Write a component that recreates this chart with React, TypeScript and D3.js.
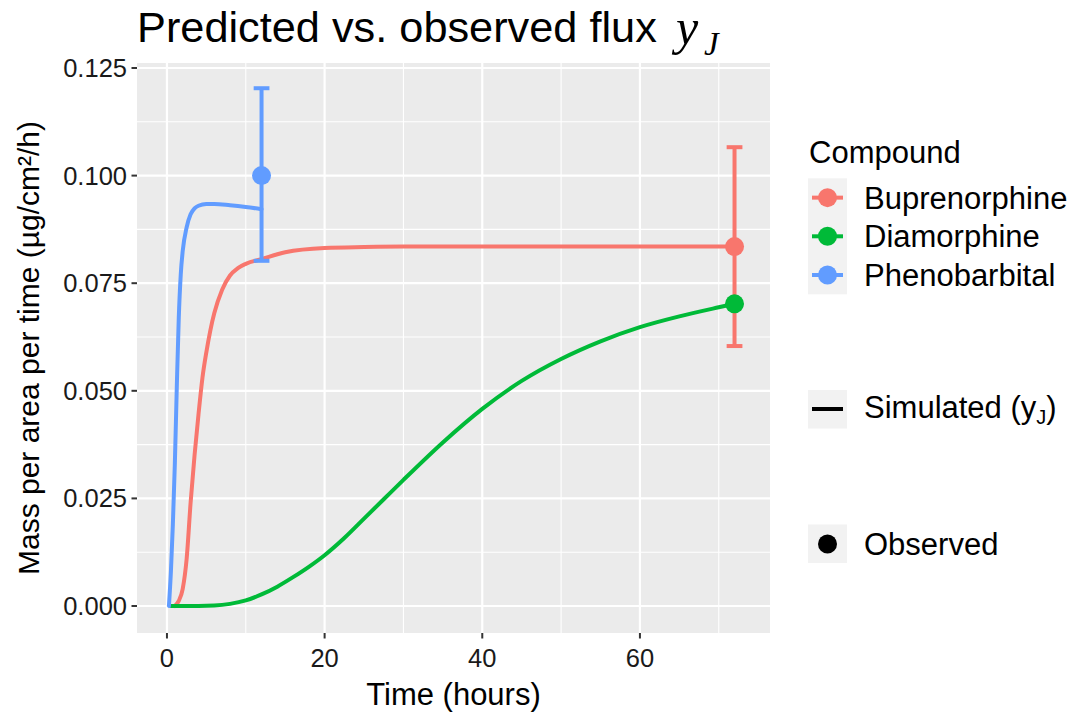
import React from "react";
import * as d3 from "d3";

// ---------- data ----------
const compounds = ["Buprenorphine", "Diamorphine", "Phenobarbital"];
const colors = ["#F8766D", "#00BA38", "#619CFF"];

const bupTime = [1, 1.5, 2, 2.5, 3, 3.5, 4, 4.5, 5, 5.5, 6, 7, 8, 9, 10, 12, 15, 20, 25, 30, 72];
const bupFlux = [0, 0.0012, 0.004, 0.011, 0.024, 0.035, 0.0445, 0.053, 0.059, 0.064, 0.068, 0.0735, 0.0768, 0.0785, 0.0795, 0.0806, 0.0822, 0.0832, 0.0834, 0.0835, 0.0835];

const diaTime = [0.5, 2, 4, 6, 8, 10, 12, 14, 16, 18, 20, 22.5, 25, 27.5, 30, 35, 40, 45, 50, 55, 60, 65, 70, 72];
const diaFlux = [0, 0, 0, 0.0001, 0.0005, 0.0013, 0.0027, 0.0045, 0.0067, 0.0091, 0.0118, 0.0158, 0.0203, 0.0248, 0.0293, 0.038, 0.0458, 0.0523, 0.0574, 0.0615, 0.0648, 0.0673, 0.0694, 0.0702];

const pheTime = [0.25, 0.5, 0.75, 1, 1.25, 1.5, 1.75, 2, 2.5, 3, 3.5, 4, 5, 6, 8, 10, 12];
const pheFlux = [0, 0.008, 0.019, 0.033, 0.051, 0.067, 0.077, 0.0825, 0.088, 0.091, 0.0924, 0.093, 0.0934, 0.0934, 0.0931, 0.0927, 0.0922];

const obsCompound = ["Buprenorphine", "Diamorphine", "Phenobarbital"];
const obsTime = [72, 72, 12];
const obsFlux = [0.0835, 0.0702, 0.1];
const obsLow = [0.0604, null, 0.0802];
const obsHigh = [0.1066, null, 0.1203];

const xTicks = [0, 20, 40, 60];
const xMinor = [10, 30, 50, 70];
const yTicks = [0, 0.025, 0.05, 0.075, 0.1, 0.125];
const yMinor = [0.0125, 0.0375, 0.0625, 0.0875, 0.1125];

const titleText = "Predicted vs. observed flux";
const xTitle = "Time (hours)";
const yTitle = "Mass per area per time (µg/cm²/h)";
const legendTitle = "Compound";

// ---------- layout ----------
const W = 1073, H = 714;
const PL = 137, PR = 770, PT = 63, PB = 633;
const SANS = "'Liberation Sans', Arial, sans-serif";
const SERIF = "'Liberation Serif', 'DejaVu Serif', serif";

export default function App() {
  const x = d3.scaleLinear().domain([-3.8, 76.5]).range([PL, PR]);
  const y = d3.scaleLinear().domain([-0.00627, 0.12616]).range([PB, PT]);
  const line = d3
    .line<[number, number]>()
    .x((d) => x(d[0]))
    .y((d) => y(d[1]))
    .curve(d3.curveMonotoneX);

  const sims = [
    { name: "Buprenorphine", t: bupTime, v: bupFlux },
    { name: "Diamorphine", t: diaTime, v: diaFlux },
    { name: "Phenobarbital", t: pheTime, v: pheFlux },
  ];
  const col = (n: string) => colors[compounds.indexOf(n)];
  const capHalf = 1.0;
  const LW = 4;

  const keyX = 808, keyW = 39, keyH = 38.67, keyTop = 178.3;

  return (
    <svg width={W} height={H} style={{ position: "absolute", left: 0, top: 0 }} fontFamily={SANS}>
      <rect x={0} y={0} width={W} height={H} fill="#FFFFFF" />
      <rect x={PL} y={PT} width={PR - PL} height={PB - PT} fill="#EBEBEB" />
      {xMinor.map((v) => (
        <line key={"xm" + v} x1={x(v)} x2={x(v)} y1={PT} y2={PB} stroke="#fff" strokeWidth={1.1} />
      ))}
      {yMinor.map((v) => (
        <line key={"ym" + v} x1={PL} x2={PR} y1={y(v)} y2={y(v)} stroke="#fff" strokeWidth={1.1} />
      ))}
      {xTicks.map((v) => (
        <line key={"xg" + v} x1={x(v)} x2={x(v)} y1={PT} y2={PB} stroke="#fff" strokeWidth={2.2} />
      ))}
      {yTicks.map((v) => (
        <line key={"yg" + v} x1={PL} x2={PR} y1={y(v)} y2={y(v)} stroke="#fff" strokeWidth={2.2} />
      ))}

      {sims.map((s) => (
        <path
          key={s.name}
          d={line(s.t.map((t, i) => [t, s.v[i]] as [number, number])) || ""}
          fill="none"
          stroke={col(s.name)}
          strokeWidth={LW}
          strokeLinejoin="round"
          strokeLinecap="round"
        />
      ))}

      {obsCompound.map((c, i) =>
        obsLow[i] == null ? null : (
          <g key={"eb" + c} stroke={col(c)} strokeWidth={LW} fill="none">
            <line x1={x(obsTime[i])} x2={x(obsTime[i])} y1={y(obsLow[i] as number)} y2={y(obsHigh[i] as number)} />
            <line x1={x(obsTime[i] - capHalf)} x2={x(obsTime[i] + capHalf)} y1={y(obsLow[i] as number)} y2={y(obsLow[i] as number)} />
            <line x1={x(obsTime[i] - capHalf)} x2={x(obsTime[i] + capHalf)} y1={y(obsHigh[i] as number)} y2={y(obsHigh[i] as number)} />
          </g>
        )
      )}
      {obsCompound.map((c, i) => (
        <circle key={"pt" + c} cx={x(obsTime[i])} cy={y(obsFlux[i])} r={9.5} fill={col(c)} />
      ))}

      {yTicks.map((v) => (
        <g key={"yt" + v}>
          <line x1={PL - 5.5} x2={PL} y1={y(v)} y2={y(v)} stroke="#333" strokeWidth={2} />
          <text x={PL - 10} y={y(v) + 9} textAnchor="end" fontSize={25.5} fill="#1a1a1a">
            {d3.format(".3f")(v)}
          </text>
        </g>
      ))}
      {xTicks.map((v) => (
        <g key={"xt" + v}>
          <line x1={x(v)} x2={x(v)} y1={PB} y2={PB + 5.5} stroke="#333" strokeWidth={2} />
          <text x={x(v)} y={667} textAnchor="middle" fontSize={25.5} fill="#1a1a1a">
            {v}
          </text>
        </g>
      ))}
      <text x={(PL + PR) / 2} y={705} textAnchor="middle" fontSize={31} fill="#000">
        {xTitle}
      </text>
      <text
        transform={`translate(39,${(PT + PB) / 2}) rotate(-90)`}
        textAnchor="middle"
        fontSize={30}
        fill="#000"
      >
        {yTitle}
      </text>

      <text x={PL} y={42} fontSize={43.3} fill="#000">
        {titleText}
      </text>
      <text x={676} y={44} fontSize={50} fontFamily={SERIF} fontStyle="italic" fill="#000">
        y
      </text>
      <text x={704} y={55} fontSize={33} fontFamily={SERIF} fontStyle="italic" fill="#000">
        J
      </text>

      <text x={809} y={163} fontSize={31} fill="#000">
        {legendTitle}
      </text>
      <rect x={keyX} y={keyTop} width={keyW} height={keyH * 3} fill="#F2F2F2" />
      {compounds.map((c, i) => {
        const cy = keyTop + keyH * (i + 0.5);
        return (
          <g key={"lg" + c}>
            <line x1={keyX + 4} x2={keyX + keyW - 4} y1={cy} y2={cy} stroke={colors[i]} strokeWidth={LW} />
            <circle cx={keyX + keyW / 2} cy={cy} r={9.5} fill={colors[i]} />
            <text x={864} y={cy + 11} fontSize={31} fill="#000">
              {c}
            </text>
          </g>
        );
      })}
      <rect x={keyX} y={390} width={keyW} height={38.5} fill="#F2F2F2" />
      <line x1={keyX + 4} x2={keyX + keyW - 4} y1={409} y2={409} stroke="#000" strokeWidth={LW} />
      <text x={864} y={418} fontSize={31} fill="#000">
        Simulated (y
        <tspan dy={6} fontSize={20}>
          J
        </tspan>
        <tspan dy={-6}>)</tspan>
      </text>
      <rect x={keyX} y={524.5} width={keyW} height={38.5} fill="#F2F2F2" />
      <circle cx={keyX + keyW / 2} cy={544} r={9.5} fill="#000" />
      <text x={864} y={555} fontSize={31} fill="#000">
        Observed
      </text>
    </svg>
  );
}
